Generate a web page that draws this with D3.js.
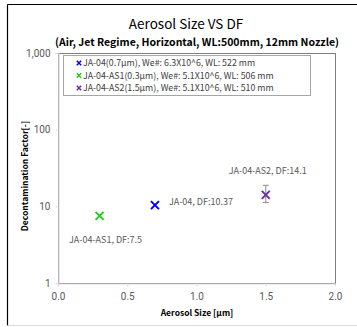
<!DOCTYPE html>
<html>
<head>
<meta charset="utf-8">
<script src="https://cdn.jsdelivr.net/npm/d3@7"></script>
<style>
  body { margin: 0; background: #fff; }
  svg { display: block; font-family: "Noto Sans CJK KR", "Noto Sans", sans-serif; }
</style>
</head>
<body>
<svg id="chart"></svg>
<script>
// data
const seriesNames = [
    "JA-04(0.7\u03bcm), We#: 6.3X10^6, WL: 522 mm",
    "JA-04-AS1(0.3\u03bcm), We#: 5.1X10^6, WL: 506 mm",
    "JA-04-AS2(1.5\u03bcm), We#: 5.1X10^6, WL: 510 mm"
];
const sizes = [0.7, 0.3, 1.5];
const dfValues = [10.37, 7.5, 14.1];
const errLow = [null, null, 11.2];
const errHigh = [null, null, 18.8];
const pointLabels = ["JA-04, DF:10.37", "JA-04-AS1, DF:7.5", "JA-04-AS2, DF:14.1"];
const colors = ["#0000ff", "#22cc22", "#7030a0"];
const xTicks = [0, 0.5, 1.0, 1.5, 2.0];
const yTicks = [1, 10, 100, 1000];

function main() {
    const width = 357;
    const height = 327;
    const plot = { left: 58, right: 335, top: 53, bottom: 283 };

    const svg = d3.select("#chart").attr("width", width).attr("height", height);

    // outer chart frame
    svg.append("line").attr("x1", 7.5).attr("x2", width).attr("y1", 4.5).attr("y2", 4.5)
        .attr("stroke", "#000").attr("stroke-width", 1.2);
    svg.append("line").attr("x1", 7.5).attr("x2", 7.5).attr("y1", 4.5).attr("y2", 325.5)
        .attr("stroke", "#000").attr("stroke-width", 1.2);
    svg.append("line").attr("x1", 7.5).attr("x2", width).attr("y1", 325.5).attr("y2", 325.5)
        .attr("stroke", "#d9d9d9");

    const x = d3.scaleLinear().domain([0, 2]).range([plot.left, plot.right]);
    const y = d3.scaleLog().domain([1, 1000]).range([plot.bottom, plot.top]);

    // plot area border
    svg.append("rect")
        .attr("x", plot.left + 0.5).attr("y", plot.top + 0.5)
        .attr("width", plot.right - plot.left).attr("height", plot.bottom - plot.top)
        .attr("fill", "none").attr("stroke", "#7f7f7f");

    const xAxis = d3.axisBottom(x).tickValues(xTicks).tickSize(3).tickSizeOuter(0)
        .tickFormat(d3.format(".1f"));
    const yAxis = d3.axisLeft(y).tickValues(yTicks).tickSize(3).tickSizeOuter(0)
        .tickFormat(d3.format(",d"));

    const gx = svg.append("g").attr("transform", "translate(0," + (plot.bottom + 0.5) + ")").call(xAxis);
    const gy = svg.append("g").attr("transform", "translate(" + (plot.left + 0.5) + ",0)").call(yAxis);
    [gx, gy].forEach(function (g) {
        g.select(".domain").attr("stroke", "#d9d9d9").attr("stroke-width", 1.2);
        g.selectAll(".tick line").attr("stroke", "#d9d9d9");
        g.selectAll(".tick text").attr("fill", "#595959").style("font-size", "10px")
            .style("font-family", "Roboto, sans-serif");
    });
    gx.selectAll(".tick text").attr("dy", "0.71em").attr("y", 9);
    gy.selectAll(".tick text").attr("x", -8);

    // titles
    svg.append("text").attr("x", 186).attr("y", 29).attr("text-anchor", "middle")
        .style("font-size", "13.5px").attr("fill", "#000").text("Aerosol Size VS DF");
    svg.append("text").attr("x", 197).attr("y", 46).attr("text-anchor", "middle")
        .style("font-size", "10.5px").style("font-weight", "bold").attr("fill", "#000")
        .text("(Air, Jet Regime, Horizontal, WL:500mm, 12mm Nozzle)");

    svg.append("text").attr("x", 197).attr("y", 316).attr("text-anchor", "middle")
        .style("font-size", "8.5px").style("font-weight", "bold").attr("fill", "#000")
        .text("Aerosol Size [\u03bcm]");
    svg.append("text").attr("transform", "translate(28,176) rotate(-90)").attr("text-anchor", "middle")
        .style("font-size", "8.5px").style("font-weight", "bold").attr("fill", "#000")
        .text("Decontamination Factor[-]");

    // error bars
    sizes.forEach(function (s, i) {
        if (errLow[i] == null) return;
        const g = svg.append("g").attr("stroke", "#8c8c8c").attr("stroke-width", 1);
        g.append("line").attr("x1", x(s)).attr("x2", x(s)).attr("y1", y(errLow[i])).attr("y2", y(errHigh[i]));
        g.append("line").attr("x1", x(s) - 3).attr("x2", x(s) + 3).attr("y1", y(errLow[i])).attr("y2", y(errLow[i]));
        g.append("line").attr("x1", x(s) - 3).attr("x2", x(s) + 3).attr("y1", y(errHigh[i])).attr("y2", y(errHigh[i]));
    });

    // markers
    function cross(g, cx, cy, r, color, w) {
        g.append("path")
            .attr("d", "M" + (cx - r) + "," + (cy - r) + "L" + (cx + r) + "," + (cy + r) +
                "M" + (cx - r) + "," + (cy + r) + "L" + (cx + r) + "," + (cy - r))
            .attr("stroke", color).attr("stroke-width", w).attr("fill", "none");
    }
    sizes.forEach(function (s, i) {
        cross(svg, x(s), y(dfValues[i]), 4, colors[i], 2);
    });

    // point labels
    const labelPos = [
        { dx: 14, dy: -3, anchor: "start" },
        { dx: 6, dy: 24, anchor: "middle" },
        { dx: 2, dy: -24, anchor: "middle" }
    ];
    sizes.forEach(function (s, i) {
        svg.append("text")
            .attr("x", x(s) + labelPos[i].dx).attr("y", y(dfValues[i]) + labelPos[i].dy)
            .attr("dy", "0.35em").attr("text-anchor", labelPos[i].anchor)
            .style("font-size", "9px").attr("fill", "#595959").text(pointLabels[i]);
    });

    // legend
    const legend = svg.append("g");
    legend.append("rect").attr("x", 63.5).attr("y", 55.5).attr("width", 247).attr("height", 40)
        .attr("fill", "#fff").attr("stroke", "#a6a6a6");
    seriesNames.forEach(function (name, i) {
        const ly = 63 + i * 12.5;
        cross(legend, 79, ly, 2.2, colors[i], 1.5);
        legend.append("text").attr("x", 83).attr("y", ly).attr("dy", "0.35em")
            .style("font-size", "8.8px").attr("fill", "#404040").text(name);
    });
}

main();
</script>
</body>
</html>
